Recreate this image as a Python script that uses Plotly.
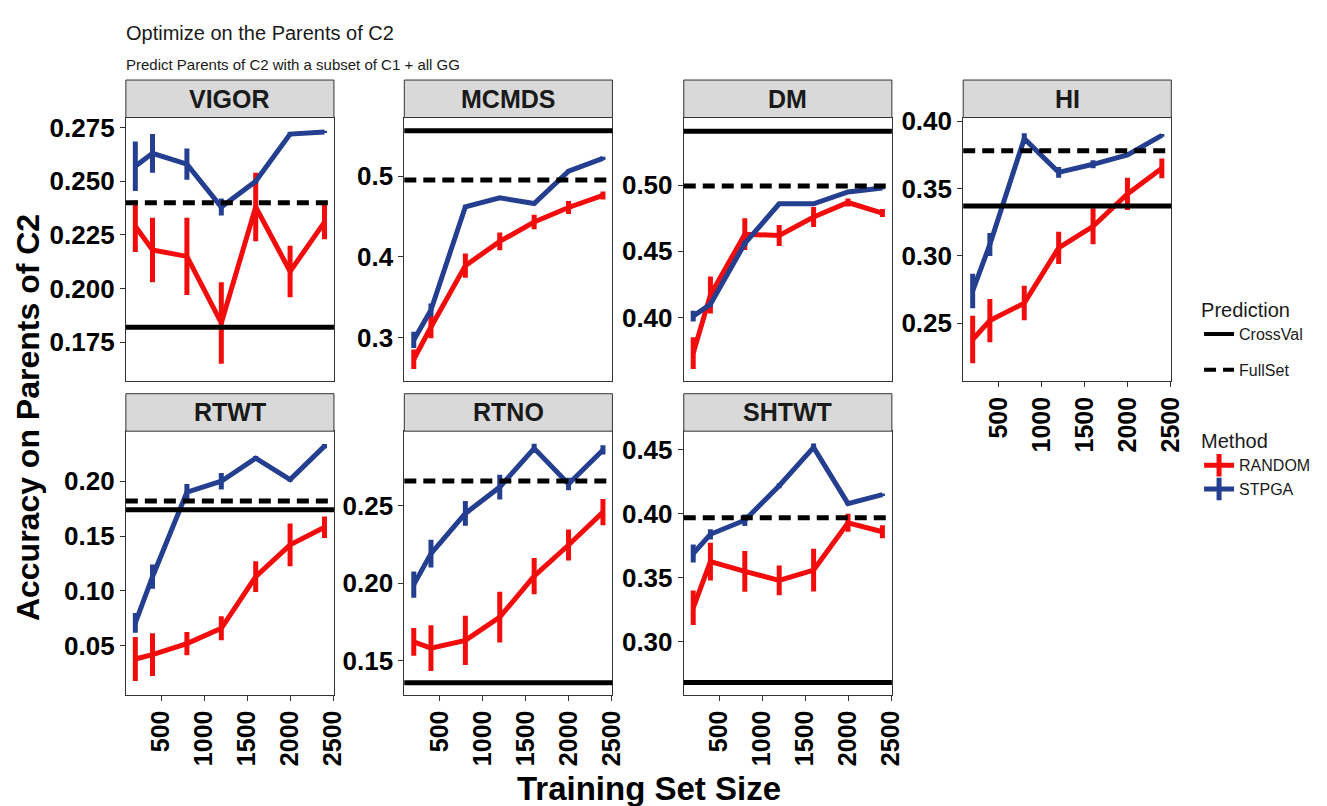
import plotly.graph_objects as go

# ---------------- data ----------------
TRAITS = ["VIGOR", "MCMDS", "DM", "HI", "RTWT", "RTNO", "SHTWT"]
TRAIN_SIZE = [200, 400, 800, 1200, 1600, 2000, 2400]
X_TICKS = [500, 1000, 1500, 2000, 2500]

VIGOR_RANDOM = [0.229, 0.218, 0.215, 0.184, 0.238, 0.208, 0.231]
VIGOR_RANDOM_ERR = [0.012, 0.015, 0.018, 0.019, 0.016, 0.012, 0.008]
VIGOR_STPGA = [0.257, 0.263, 0.258, 0.238, 0.250, 0.272, 0.273]
VIGOR_STPGA_ERR = [0.0115, 0.009, 0.0073, 0.004, 0.001, 0.001, 0.0005]

MCMDS_RANDOM = [0.273, 0.313, 0.389, 0.419, 0.443, 0.461, 0.476]
MCMDS_RANDOM_ERR = [0.012, 0.014, 0.015, 0.011, 0.009, 0.008, 0.005]
MCMDS_STPGA = [0.297, 0.334, 0.462, 0.473, 0.466, 0.506, 0.522]
MCMDS_STPGA_ERR = [0.010, 0.008, 0.002, 0.002, 0.002, 0.002, 0.002]

DM_RANDOM = [0.373, 0.417, 0.463, 0.462, 0.476, 0.487, 0.479]
DM_RANDOM_ERR = [0.012, 0.014, 0.012, 0.008, 0.0075, 0.003, 0.003]
DM_STPGA = [0.401, 0.410, 0.456, 0.486, 0.486, 0.495, 0.498]
DM_STPGA_ERR = [0.004, 0.002, 0.002, 0.001, 0.001, 0.001, 0.001]

HI_RANDOM = [0.238, 0.252, 0.265, 0.306, 0.322, 0.346, 0.365]
HI_RANDOM_ERR = [0.0177, 0.016, 0.0128, 0.012, 0.0134, 0.012, 0.0073]
HI_STPGA = [0.274, 0.3085, 0.387, 0.362, 0.368, 0.375, 0.3895]
HI_STPGA_ERR = [0.0128, 0.0085, 0.004, 0.004, 0.003, 0.001, 0.001]

RTWT_RANDOM = [0.038, 0.042, 0.052, 0.066, 0.113, 0.142, 0.158]
RTWT_RANDOM_ERR = [0.020, 0.0195, 0.0105, 0.011, 0.014, 0.0195, 0.0098]
RTWT_STPGA = [0.071, 0.113, 0.190, 0.200, 0.221, 0.2015, 0.232]
RTWT_STPGA_ERR = [0.009, 0.011, 0.0075, 0.0075, 0.002, 0.002, 0.002]

RTNO_RANDOM = [0.162, 0.158, 0.163, 0.178, 0.2045, 0.2246, 0.2458]
RTNO_RANDOM_ERR = [0.009, 0.0148, 0.0159, 0.0164, 0.0117, 0.010, 0.0085]
RTNO_STPGA = [0.199, 0.219, 0.245, 0.262, 0.287, 0.264, 0.286]
RTNO_STPGA_ERR = [0.0085, 0.009, 0.008, 0.008, 0.003, 0.004, 0.003]

SHTWT_RANDOM = [0.3265, 0.3626, 0.355, 0.348, 0.356, 0.393, 0.386]
SHTWT_RANDOM_ERR = [0.0135, 0.0148, 0.016, 0.0116, 0.0167, 0.007, 0.005]
SHTWT_STPGA = [0.369, 0.384, 0.395, 0.422, 0.452, 0.408, 0.415]
SHTWT_STPGA_ERR = [0.007, 0.004, 0.0045, 0.002, 0.003, 0.001, 0.001]

CROSSVAL = [0.182, 0.556, 0.541, 0.337, 0.174, 0.1356, 0.268]
FULLSET = [0.240, 0.495, 0.4995, 0.378, 0.182, 0.266, 0.397]

Y_TICKS_VIGOR = [0.175, 0.200, 0.225, 0.250, 0.275]
Y_TICKS_MCMDS = [0.3, 0.4, 0.5]
Y_TICKS_DM = [0.40, 0.45, 0.50]
Y_TICKS_HI = [0.25, 0.30, 0.35, 0.40]
Y_TICKS_RTWT = [0.05, 0.10, 0.15, 0.20]
Y_TICKS_RTNO = [0.15, 0.20, 0.25]
Y_TICKS_SHTWT = [0.30, 0.35, 0.40, 0.45]

# ---------------- assembly ----------------
RANDOM = [VIGOR_RANDOM, MCMDS_RANDOM, DM_RANDOM, HI_RANDOM, RTWT_RANDOM, RTNO_RANDOM, SHTWT_RANDOM]
RANDOM_ERR = [VIGOR_RANDOM_ERR, MCMDS_RANDOM_ERR, DM_RANDOM_ERR, HI_RANDOM_ERR,
              RTWT_RANDOM_ERR, RTNO_RANDOM_ERR, SHTWT_RANDOM_ERR]
STPGA = [VIGOR_STPGA, MCMDS_STPGA, DM_STPGA, HI_STPGA, RTWT_STPGA, RTNO_STPGA, SHTWT_STPGA]
STPGA_ERR = [VIGOR_STPGA_ERR, MCMDS_STPGA_ERR, DM_STPGA_ERR, HI_STPGA_ERR,
             RTWT_STPGA_ERR, RTNO_STPGA_ERR, SHTWT_STPGA_ERR]
Y_TICKS = [Y_TICKS_VIGOR, Y_TICKS_MCMDS, Y_TICKS_DM, Y_TICKS_HI, Y_TICKS_RTWT, Y_TICKS_RTNO, Y_TICKS_SHTWT]
Y_FMT = ["{:.3f}", "{:.1f}", "{:.2f}", "{:.2f}", "{:.2f}", "{:.2f}", "{:.2f}"]
Y_RANGE = [(0.157, 0.2797), (0.2462, 0.5725), (0.352, 0.5513), (0.2073, 0.4027),
           (0.0056, 0.2456), (0.128, 0.2981), (0.2586, 0.4647)]

W, H = 1327, 806
COL_X = [(127, 337), (408, 618), (690, 900), (972, 1182)]
ROW_Y = [(108, 375), (426, 693)]
STRIP_H = 38
POS = [(0, 0), (0, 1), (0, 2), (0, 3), (1, 0), (1, 1), (1, 2)]
SHOW_X = [False, False, False, True, True, True, True]

RED = "#F20C0C"
BLUE = "#243E90"
FONT = "Liberation Sans, Arial, Helvetica, sans-serif"
BORDER = "#333333"

fig = go.Figure()
layout = {}
shapes = []
annotations = []

for i, trait in enumerate(TRAITS):
    k = i + 1
    xs = "" if k == 1 else str(k)
    row, col = POS[i]
    x0, x1 = COL_X[col]
    y0, y1 = ROW_Y[row]
    xdom = [x0 / W, x1 / W]
    ydom = [1 - y1 / H, 1 - y0 / H]

    for vals, errs, color in ((RANDOM[i], RANDOM_ERR[i], RED), (STPGA[i], STPGA_ERR[i], BLUE)):
        fig.add_trace(go.Scatter(
            x=TRAIN_SIZE, y=vals, mode="lines", showlegend=False,
            line=dict(color=color, width=5),
            error_y=dict(type="data", array=errs, visible=True, color=color, thickness=5, width=0),
            xaxis="x" + xs, yaxis="y" + xs, hoverinfo="skip"))

    layout["xaxis" + xs] = dict(
        domain=xdom, anchor="y" + xs, range=[90, 2510], showgrid=False, zeroline=False,
        showline=True, mirror=True, linecolor=BORDER, linewidth=1,
        ticks="outside" if SHOW_X[i] else "", ticklen=5, tickcolor=BORDER,
        showticklabels=SHOW_X[i], tickvals=X_TICKS, ticktext=[str(v) for v in X_TICKS],
        tickangle=-90, tickfont=dict(family=FONT, size=25, color="black", weight="bold"))
    layout["yaxis" + xs] = dict(
        domain=ydom, anchor="x" + xs, range=list(Y_RANGE[i]), showgrid=False, zeroline=False,
        showline=True, mirror=True, linecolor=BORDER, linewidth=1,
        ticks="outside", ticklen=5, tickcolor=BORDER,
        tickvals=Y_TICKS[i], ticktext=[Y_FMT[i].format(v) for v in Y_TICKS[i]],
        tickfont=dict(family=FONT, size=26, color="black", weight="bold"))

    # reference lines
    shapes.append(dict(type="line", xref="x" + xs + " domain", yref="y" + xs,
                       x0=0, x1=1, y0=CROSSVAL[i], y1=CROSSVAL[i],
                       line=dict(color="black", width=5)))
    shapes.append(dict(type="line", xref="x" + xs + " domain", yref="y" + xs,
                       x0=0, x1=1, y0=FULLSET[i], y1=FULLSET[i],
                       line=dict(color="black", width=5, dash="12px,7px")))
    # strip
    shapes.append(dict(type="rect", xref="paper", yref="paper",
                       x0=x0 / W, x1=x1 / W, y0=1 - y0 / H, y1=1 - (y0 - STRIP_H) / H,
                       fillcolor="#D9D9D9", line=dict(color=BORDER, width=1)))
    annotations.append(dict(text=trait, xref="paper", yref="paper",
                            x=(x0 + x1) / 2 / W, y=1 - (y0 - STRIP_H / 2) / H,
                            showarrow=False, xanchor="center", yanchor="middle",
                            font=dict(family=FONT, size=25, color="#1A1A1A", weight="bold")))

# legend dummy traces
fig.add_trace(go.Scatter(x=[None], y=[None], mode="lines", name="CrossVal",
                         line=dict(color="black", width=4), legend="legend", legendgroup="cv"))
fig.add_trace(go.Scatter(x=[None], y=[None], mode="lines", name="FullSet",
                         line=dict(color="black", width=4, dash="12px,7px"), legend="legend", legendgroup="fs"))
for name, color in (("RANDOM", RED), ("STPGA", BLUE)):
    fig.add_trace(go.Scatter(x=[None], y=[None], mode="lines+markers", name=name,
                             line=dict(color=color, width=5),
                             marker=dict(symbol="line-ns", size=22, color=color,
                                         line=dict(color=color, width=5)),
                             legend="legend2"))

annotations += [
    dict(text="Optimize on the Parents of C2", xref="paper", yref="paper",
         x=125 / W, y=1 - 22 / H, xanchor="left", yanchor="middle", showarrow=False,
         font=dict(family=FONT, size=20, color="#1A1A1A")),
    dict(text="Predict Parents of C2 with a subset of C1 + all GG", xref="paper", yref="paper",
         x=125 / W, y=1 - 54 / H, xanchor="left", yanchor="middle", showarrow=False,
         font=dict(family=FONT, size=15, color="#1A1A1A")),
    dict(text="Training Set Size", xref="paper", yref="paper",
         x=654.5 / W, y=1 - 788 / H, xanchor="center", yanchor="middle", showarrow=False,
         font=dict(family=FONT, size=33, color="black", weight="bold")),
    dict(text="Accuracy on Parents of C2", xref="paper", yref="paper",
         x=29 / W, y=1 - 412 / H, xanchor="center", yanchor="middle", showarrow=False,
         textangle=-90, font=dict(family=FONT, size=32, color="black", weight="bold")),
]

fig.update_layout(
    width=W, height=H, margin=dict(l=0, r=0, t=0, b=0),
    paper_bgcolor="white", plot_bgcolor="white",
    font=dict(family=FONT, color="black"),
    shapes=shapes, annotations=annotations,
    legend=dict(title=dict(text="Prediction", font=dict(size=20, family=FONT, color="#1A1A1A")),
                x=1210 / W, y=1 - 284 / H, xanchor="left", yanchor="top",
                font=dict(size=16, family=FONT, color="#1A1A1A"), bgcolor="rgba(0,0,0,0)",
                tracegroupgap=12, itemwidth=30),
    legend2=dict(title=dict(text="Method", font=dict(size=20, family=FONT, color="#1A1A1A")),
                 x=1210 / W, y=1 - 417 / H, xanchor="left", yanchor="top",
                 font=dict(size=16, family=FONT, color="#1A1A1A"), bgcolor="rgba(0,0,0,0)",
                 itemwidth=30),
    **layout,
)

PAGE_FIX = (
    "document.body.style.margin='0';"
    "document.body.style.overflow='hidden';"
    "var d=document.getElementsByClassName('plotly-graph-div')[0];"
    "d.style.position='absolute';d.style.top='0px';d.style.left='0px';"
)

fig.write_html("out.html", config={"displayModeBar": False}, post_script=PAGE_FIX)
